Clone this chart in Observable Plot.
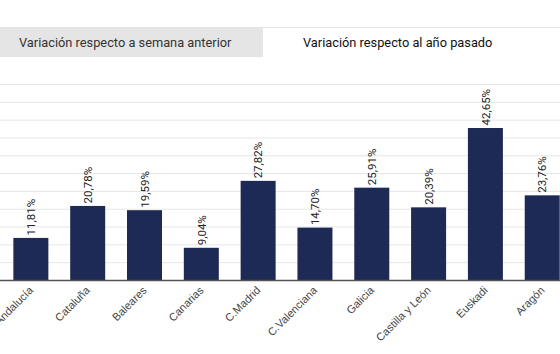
<!DOCTYPE html>
<html>
<head>
<meta charset="utf-8">
<script src="https://cdn.jsdelivr.net/npm/d3@7"></script>
<script src="https://cdn.jsdelivr.net/npm/@observablehq/plot@0.6"></script>
<style>
  html, body { margin: 0; padding: 0; background: #fff; }
  #wrap { width: 560px; height: 354px; overflow: hidden; position: relative; }
  #tabs { position: absolute; top: 27px; left: 0; width: 560px; height: 30px; display: flex;
          font-family: Roboto, "Noto Sans", sans-serif; font-size: 12.8px; border-top: 1px solid #e4e4e4; box-sizing: border-box; }
  .tab { height: 30px; line-height: 29px; box-sizing: border-box; white-space: nowrap; }
  .tab.off { width: 263px; background: #e5e5e5; color: #333; padding-left: 19px; }
  .tab.on { flex: 1; background: #fff; color: #111; padding-left: 40px; }
  #chart { position: absolute; top: 57px; left: 0; }
</style>
</head>
<body>
<div id="wrap">
  <div id="tabs">
    <div class="tab off">Variación respecto a semana anterior</div>
    <div class="tab on">Variación respecto al año pasado</div>
  </div>
  <div id="chart"></div>
</div>
<script>
const regions = ["Andalucía", "Cataluña", "Baleares", "Canarias", "C.Madrid", "C.Valenciana", "Galicia", "Castilla y León", "Euskadi", "Aragón"];
const values = [11.81, 20.78, 19.59, 9.04, 27.82, 14.70, 25.91, 20.39, 42.65, 23.76];
const gridTicks = [0, 5, 10, 15, 20, 25, 30, 35, 40, 45, 50, 55];

const data = regions.map((r, i) => ({region: r, value: values[i]}));
const fmt = v => v.toFixed(2).replace(".", ",") + "%";

const plot = Plot.plot({
  width: 560,
  height: 297,
  marginLeft: 0,
  marginRight: 0,
  marginTop: 27,
  marginBottom: 74,
  style: {fontFamily: "Roboto, 'Noto Sans', sans-serif", background: "#fff"},
  x: {domain: regions, paddingInner: 0.384, paddingOuter: 0.12, align: 0.98, round: false, label: null},
  y: {domain: [0, 55], label: null, axis: null},
  marks: [
    Plot.ruleY(gridTicks.slice(1), {stroke: "#e6e6e6", strokeWidth: 1}),
    Plot.barY(data, {x: "region", y: "value", fill: "#1d2a55"}),
    Plot.ruleY([0], {stroke: "#555", strokeWidth: 1.5}),
    Plot.text(data, {x: "region", y: "value", text: d => fmt(d.value), rotate: -90, textAnchor: "start",
      dx: 0, dy: -3, fontSize: 11.5, fill: "#222"}),
    Plot.axisX({tickRotate: -45, tickSize: 0, tickPadding: 8, fontSize: 11, fill: "#444",
      fontFamily: "'Liberation Sans', Arial, sans-serif", label: null})
  ]
});
document.getElementById("chart").appendChild(plot);
</script>
</body>
</html>
